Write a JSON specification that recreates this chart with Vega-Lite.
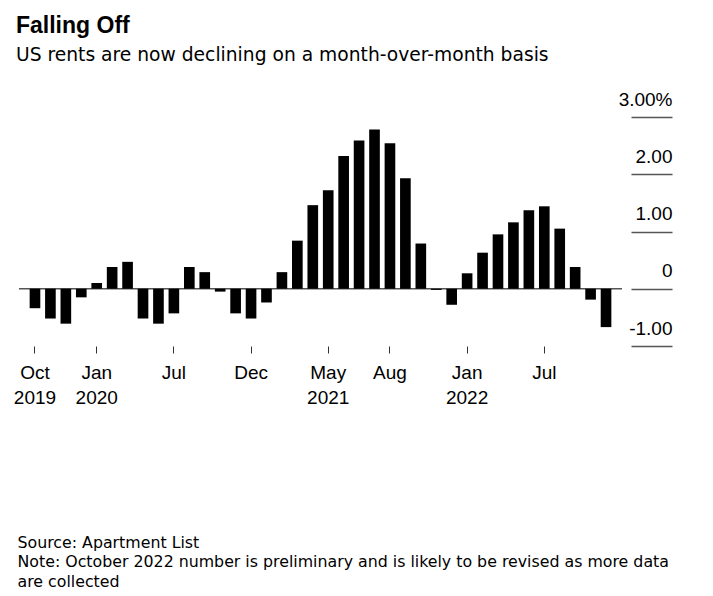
{
  "$schema": "https://vega.github.io/schema/vega-lite/v6.json",
  "width": 603,
  "height": 229,
  "autosize": {"type": "none"},
  "padding": {"left": 19, "top": 117, "right": 91, "bottom": 250},
  "background": "white",
  "config": {"view": {"stroke": null}, "font": "Liberation Sans"},
  "title": {
    "text": "Falling Off",
    "subtitle": "US rents are now declining on a month-over-month basis",
    "anchor": "start",
    "frame": "group",
    "dx": -3,
    "fontSize": 23,
    "fontWeight": "bold",
    "color": "#000000",
    "subtitleFont": "DejaVu Sans",
    "subtitleFontSize": 18.7,
    "subtitleColor": "#000000",
    "subtitlePadding": 8,
    "offset": 25
  },
  "encoding": {
    "y": {
      "field": "change",
      "type": "quantitative",
      "scale": {"domain": [-1, 3], "nice": false},
      "axis": {
        "orient": "right",
        "offset": 9,
        "values": [-1, 0, 1, 2, 3],
        "labelExpr": "datum.value == 3 ? '3.00%' : datum.value == 2 ? '2.00' : datum.value == 1 ? '1.00' : datum.value == 0 ? '0' : '-1.00'",
        "labelAlign": "right",
        "labelBaseline": "alphabetic",
        "labelPadding": 0,
        "labelOffset": -12,
        "labelFontSize": 19,
        "labelColor": "#000000",
        "labelOverlap": false,
        "labelBound": false,
        "labelFlush": false,
        "encode": {"labels": {"update": {"dx": {"signal": "datum.value == 3 ? 17 : 0"}}}},
        "tickSize": 41,
        "tickWidth": 1.5,
        "tickColor": "#555555",
        "domain": false,
        "grid": false,
        "title": null
      }
    }
  },
  "layer": [
    {
      "data": {"values": [{"change": 0}]},
      "mark": {"type": "rule", "color": "#555555", "strokeWidth": 1.5}
    },
    {
      "data": {
        "values": [
          {"month": "2019-09", "change": -0.34},
          {"month": "2019-10", "change": -0.52},
          {"month": "2019-11", "change": -0.61},
          {"month": "2019-12", "change": -0.15},
          {"month": "2020-01", "change": 0.1},
          {"month": "2020-02", "change": 0.38},
          {"month": "2020-03", "change": 0.47},
          {"month": "2020-04", "change": -0.52},
          {"month": "2020-05", "change": -0.61},
          {"month": "2020-06", "change": -0.43},
          {"month": "2020-07", "change": 0.38},
          {"month": "2020-08", "change": 0.29},
          {"month": "2020-09", "change": -0.05},
          {"month": "2020-10", "change": -0.43},
          {"month": "2020-11", "change": -0.52},
          {"month": "2020-12", "change": -0.24},
          {"month": "2021-01", "change": 0.29},
          {"month": "2021-02", "change": 0.84},
          {"month": "2021-03", "change": 1.46},
          {"month": "2021-04", "change": 1.72},
          {"month": "2021-05", "change": 2.32},
          {"month": "2021-06", "change": 2.59},
          {"month": "2021-07", "change": 2.78},
          {"month": "2021-08", "change": 2.54},
          {"month": "2021-09", "change": 1.93},
          {"month": "2021-10", "change": 0.79},
          {"month": "2021-11", "change": -0.02},
          {"month": "2021-12", "change": -0.28},
          {"month": "2022-01", "change": 0.27},
          {"month": "2022-02", "change": 0.63},
          {"month": "2022-03", "change": 0.95},
          {"month": "2022-04", "change": 1.16},
          {"month": "2022-05", "change": 1.37},
          {"month": "2022-06", "change": 1.44},
          {"month": "2022-07", "change": 1.05},
          {"month": "2022-08", "change": 0.38},
          {"month": "2022-09", "change": -0.19},
          {"month": "2022-10", "change": -0.67}
        ]
      },
      "mark": {"type": "bar", "color": "#000000"},
      "encoding": {
        "x": {
          "field": "month",
          "type": "ordinal",
          "sort": null,
          "scale": {"paddingInner": 0.31, "paddingOuter": 0.69},
          "axis": {
            "values": ["2019-09", "2020-01", "2020-06", "2020-11", "2021-04", "2021-08", "2022-01", "2022-06"],
            "labelExpr": "datum.value == '2019-09' ? ['Oct', '2019'] : datum.value == '2020-01' ? ['Jan', '2020'] : datum.value == '2020-06' ? 'Jul' : datum.value == '2020-11' ? 'Dec' : datum.value == '2021-04' ? ['May', '2021'] : datum.value == '2021-08' ? 'Aug' : datum.value == '2022-01' ? ['Jan', '2022'] : 'Jul'",
            "labelAngle": 0,
            "labelAlign": "center",
            "labelBaseline": "alphabetic",
            "labelPadding": 25,
            "labelFontSize": 19,
            "labelColor": "#000000",
            "labelLineHeight": 25,
            "labelOverlap": false,
            "tickSize": 7,
            "tickColor": "#333333",
            "tickWidth": 1,
            "domain": false,
            "grid": false,
            "title": [
              "Source: Apartment List",
              "Note: October 2022 number is preliminary and is likely to be revised as more data",
              "are collected"
            ],
            "titleFont": "DejaVu Sans",
            "titleFontSize": 15.8,
            "titleFontWeight": "normal",
            "titleColor": "#000000",
            "titleAnchor": "start",
            "titleAlign": "left",
            "titleBaseline": "alphabetic",
            "titleX": -2,
            "titleY": 201,
            "titleLineHeight": 19.5,
            "titleLimit": 1000
          }
        }
      }
    }
  ]
}
